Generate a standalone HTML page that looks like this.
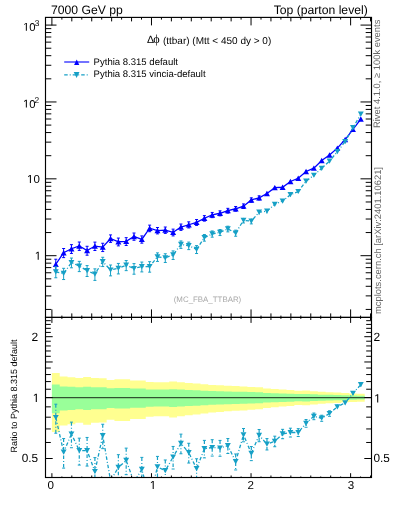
<!DOCTYPE html>
<html><head><meta charset="utf-8"><style>
html,body{margin:0;padding:0;background:#fff;}
svg{display:block;font-family:"Liberation Sans",sans-serif;will-change:transform;text-rendering:geometricPrecision;}
</style></head><body>
<svg width="393" height="512" viewBox="0 0 393 512">
<rect width="393" height="512" fill="#fff"/>
<path d="M51.90,372.90 L59.72,372.90 L59.72,376.50 L67.54,376.50 L67.54,377.20 L75.36,377.20 L75.36,378.00 L83.18,378.00 L83.18,376.90 L91.00,376.90 L91.00,378.00 L98.82,378.00 L98.82,378.20 L106.64,378.20 L106.64,379.90 L114.46,379.90 L114.46,379.20 L122.28,379.20 L122.28,379.20 L130.10,379.20 L130.10,380.40 L137.92,380.40 L137.92,380.40 L145.74,380.40 L145.74,381.90 L153.56,381.90 L153.56,382.30 L161.38,382.30 L161.38,382.30 L169.20,382.30 L169.20,381.40 L177.02,381.40 L177.02,382.30 L184.84,382.30 L184.84,382.90 L192.66,382.90 L192.66,383.40 L200.48,383.40 L200.48,384.20 L208.30,384.20 L208.30,384.90 L216.12,384.90 L216.12,385.30 L223.94,385.30 L223.94,385.80 L231.76,385.80 L231.76,386.10 L239.59,386.10 L239.59,386.40 L247.41,386.40 L247.41,386.90 L255.23,386.90 L255.23,387.30 L263.05,387.30 L263.05,388.40 L270.87,388.40 L270.87,388.90 L278.69,388.90 L278.69,389.50 L286.51,389.50 L286.51,389.90 L294.33,389.90 L294.33,390.70 L302.15,390.70 L302.15,390.50 L309.97,390.50 L309.97,391.20 L317.79,391.20 L317.79,391.80 L325.61,391.80 L325.61,392.20 L333.43,392.20 L333.43,392.60 L341.25,392.60 L341.25,393.10 L349.07,393.10 L349.07,393.50 L356.89,393.50 L356.89,393.70 L364.71,393.70 L364.71,401.68 L356.89,401.68 L356.89,401.90 L349.07,401.90 L349.07,402.34 L341.25,402.34 L341.25,402.90 L333.43,402.90 L333.43,403.35 L325.61,403.35 L325.61,403.81 L317.79,403.81 L317.79,404.50 L309.97,404.50 L309.97,405.32 L302.15,405.32 L302.15,405.09 L294.33,405.09 L294.33,406.04 L286.51,406.04 L286.51,406.52 L278.69,406.52 L278.69,407.26 L270.87,407.26 L270.87,407.88 L263.05,407.88 L263.05,409.27 L255.23,409.27 L255.23,409.79 L247.41,409.79 L247.41,410.44 L239.59,410.44 L239.59,410.84 L231.76,410.84 L231.76,411.23 L223.94,411.23 L223.94,411.91 L216.12,411.91 L216.12,412.45 L208.30,412.45 L208.30,413.42 L200.48,413.42 L200.48,414.55 L192.66,414.55 L192.66,415.26 L184.84,415.26 L184.84,416.14 L177.02,416.14 L177.02,417.48 L169.20,417.48 L169.20,416.14 L161.38,416.14 L161.38,416.14 L153.56,416.14 L153.56,416.73 L145.74,416.73 L145.74,419.01 L137.92,419.01 L137.92,419.01 L130.10,419.01 L130.10,420.90 L122.28,420.90 L122.28,420.90 L114.46,420.90 L114.46,419.79 L106.64,419.79 L106.64,422.53 L98.82,422.53 L98.82,422.87 L91.00,422.87 L91.00,424.73 L83.18,424.73 L83.18,422.87 L75.36,422.87 L75.36,424.22 L67.54,424.22 L67.54,425.42 L59.72,425.42 L59.72,432.08 L51.90,432.08 Z" fill="#ffff90"/>
<path d="M51.90,384.38 L59.72,384.38 L59.72,386.42 L67.54,386.42 L67.54,386.81 L75.36,386.81 L75.36,387.25 L83.18,387.25 L83.18,386.64 L91.00,386.64 L91.00,387.25 L98.82,387.25 L98.82,387.37 L106.64,387.37 L106.64,388.31 L114.46,388.31 L114.46,387.92 L122.28,387.92 L122.28,387.92 L130.10,387.92 L130.10,388.58 L137.92,388.58 L137.92,388.58 L145.74,388.58 L145.74,389.40 L153.56,389.40 L153.56,389.62 L161.38,389.62 L161.38,389.62 L169.20,389.62 L169.20,389.13 L177.02,389.13 L177.02,389.62 L184.84,389.62 L184.84,389.94 L192.66,389.94 L192.66,390.21 L200.48,390.21 L200.48,390.64 L208.30,390.64 L208.30,391.02 L216.12,391.02 L216.12,391.23 L223.94,391.23 L223.94,391.50 L231.76,391.50 L231.76,391.66 L239.59,391.66 L239.59,391.82 L247.41,391.82 L247.41,392.09 L255.23,392.09 L255.23,392.30 L263.05,392.30 L263.05,392.88 L270.87,392.88 L270.87,393.14 L278.69,393.14 L278.69,393.46 L286.51,393.46 L286.51,393.67 L294.33,393.67 L294.33,394.08 L302.15,394.08 L302.15,393.98 L309.97,393.98 L309.97,394.34 L317.79,394.34 L317.79,394.65 L325.61,394.65 L325.61,394.86 L333.43,394.86 L333.43,395.06 L341.25,395.06 L341.25,395.32 L349.07,395.32 L349.07,395.53 L356.89,395.53 L356.89,395.63 L364.71,395.63 L364.71,399.62 L356.89,399.62 L356.89,399.72 L349.07,399.72 L349.07,399.94 L341.25,399.94 L341.25,400.21 L333.43,400.21 L333.43,400.43 L325.61,400.43 L325.61,400.65 L317.79,400.65 L317.79,400.98 L309.97,400.98 L309.97,401.38 L302.15,401.38 L302.15,401.26 L294.33,401.26 L294.33,401.72 L286.51,401.72 L286.51,401.95 L278.69,401.95 L278.69,402.30 L270.87,402.30 L270.87,402.59 L263.05,402.59 L263.05,403.24 L255.23,403.24 L255.23,403.48 L247.41,403.48 L247.41,403.79 L239.59,403.79 L239.59,403.97 L231.76,403.97 L231.76,404.15 L223.94,404.15 L223.94,404.46 L216.12,404.46 L216.12,404.71 L208.30,404.71 L208.30,405.15 L200.48,405.15 L200.48,405.67 L192.66,405.67 L192.66,405.99 L184.84,405.99 L184.84,406.38 L177.02,406.38 L177.02,406.98 L169.20,406.98 L169.20,406.38 L161.38,406.38 L161.38,406.38 L153.56,406.38 L153.56,406.65 L145.74,406.65 L145.74,407.65 L137.92,407.65 L137.92,407.65 L130.10,407.65 L130.10,408.48 L122.28,408.48 L122.28,408.48 L114.46,408.48 L114.46,408.00 L106.64,408.00 L106.64,409.19 L98.82,409.19 L98.82,409.33 L91.00,409.33 L91.00,410.12 L83.18,410.12 L83.18,409.33 L75.36,409.33 L75.36,409.90 L67.54,409.90 L67.54,410.42 L59.72,410.42 L59.72,413.16 L51.90,413.16 Z" fill="#99ff99"/>
<line x1="45.5" y1="397.6" x2="371.5" y2="397.6" stroke="#000" stroke-opacity="0.68" stroke-width="1.45"/>
<line x1="55.81" y1="259.23" x2="55.81" y2="270.16" stroke="#0000ff" stroke-width="1" />
<line x1="54.31" y1="259.23" x2="57.31" y2="259.23" stroke="#0000ff" stroke-width="1" />
<line x1="54.31" y1="270.16" x2="57.31" y2="270.16" stroke="#0000ff" stroke-width="1" />
<line x1="63.63" y1="248.50" x2="63.63" y2="257.62" stroke="#0000ff" stroke-width="1" />
<line x1="62.13" y1="248.50" x2="65.13" y2="248.50" stroke="#0000ff" stroke-width="1" />
<line x1="62.13" y1="257.62" x2="65.13" y2="257.62" stroke="#0000ff" stroke-width="1" />
<line x1="71.45" y1="244.65" x2="71.45" y2="253.43" stroke="#0000ff" stroke-width="1" />
<line x1="69.95" y1="244.65" x2="72.95" y2="244.65" stroke="#0000ff" stroke-width="1" />
<line x1="69.95" y1="253.43" x2="72.95" y2="253.43" stroke="#0000ff" stroke-width="1" />
<line x1="79.27" y1="242.02" x2="79.27" y2="250.41" stroke="#0000ff" stroke-width="1" />
<line x1="77.77" y1="242.02" x2="80.77" y2="242.02" stroke="#0000ff" stroke-width="1" />
<line x1="77.77" y1="250.41" x2="80.77" y2="250.41" stroke="#0000ff" stroke-width="1" />
<line x1="87.09" y1="246.29" x2="87.09" y2="255.21" stroke="#0000ff" stroke-width="1" />
<line x1="85.59" y1="246.29" x2="88.59" y2="246.29" stroke="#0000ff" stroke-width="1" />
<line x1="85.59" y1="255.21" x2="88.59" y2="255.21" stroke="#0000ff" stroke-width="1" />
<line x1="94.91" y1="242.12" x2="94.91" y2="250.51" stroke="#0000ff" stroke-width="1" />
<line x1="93.41" y1="242.12" x2="96.41" y2="242.12" stroke="#0000ff" stroke-width="1" />
<line x1="93.41" y1="250.51" x2="96.41" y2="250.51" stroke="#0000ff" stroke-width="1" />
<line x1="102.73" y1="243.26" x2="102.73" y2="251.55" stroke="#0000ff" stroke-width="1" />
<line x1="101.23" y1="243.26" x2="104.23" y2="243.26" stroke="#0000ff" stroke-width="1" />
<line x1="101.23" y1="251.55" x2="104.23" y2="251.55" stroke="#0000ff" stroke-width="1" />
<line x1="110.55" y1="234.92" x2="110.55" y2="242.40" stroke="#0000ff" stroke-width="1" />
<line x1="109.05" y1="234.92" x2="112.05" y2="234.92" stroke="#0000ff" stroke-width="1" />
<line x1="109.05" y1="242.40" x2="112.05" y2="242.40" stroke="#0000ff" stroke-width="1" />
<line x1="118.37" y1="238.07" x2="118.37" y2="245.88" stroke="#0000ff" stroke-width="1" />
<line x1="116.87" y1="238.07" x2="119.87" y2="238.07" stroke="#0000ff" stroke-width="1" />
<line x1="116.87" y1="245.88" x2="119.87" y2="245.88" stroke="#0000ff" stroke-width="1" />
<line x1="126.19" y1="237.67" x2="126.19" y2="245.48" stroke="#0000ff" stroke-width="1" />
<line x1="124.69" y1="237.67" x2="127.69" y2="237.67" stroke="#0000ff" stroke-width="1" />
<line x1="124.69" y1="245.48" x2="127.69" y2="245.48" stroke="#0000ff" stroke-width="1" />
<line x1="134.01" y1="233.02" x2="134.01" y2="240.27" stroke="#0000ff" stroke-width="1" />
<line x1="132.51" y1="233.02" x2="135.51" y2="233.02" stroke="#0000ff" stroke-width="1" />
<line x1="132.51" y1="240.27" x2="135.51" y2="240.27" stroke="#0000ff" stroke-width="1" />
<line x1="141.83" y1="235.92" x2="141.83" y2="243.17" stroke="#0000ff" stroke-width="1" />
<line x1="140.33" y1="235.92" x2="143.33" y2="235.92" stroke="#0000ff" stroke-width="1" />
<line x1="140.33" y1="243.17" x2="143.33" y2="243.17" stroke="#0000ff" stroke-width="1" />
<line x1="149.65" y1="225.13" x2="149.65" y2="231.69" stroke="#0000ff" stroke-width="1" />
<line x1="148.15" y1="225.13" x2="151.15" y2="225.13" stroke="#0000ff" stroke-width="1" />
<line x1="148.15" y1="231.69" x2="151.15" y2="231.69" stroke="#0000ff" stroke-width="1" />
<line x1="157.47" y1="227.52" x2="157.47" y2="233.89" stroke="#0000ff" stroke-width="1" />
<line x1="155.97" y1="227.52" x2="158.97" y2="227.52" stroke="#0000ff" stroke-width="1" />
<line x1="155.97" y1="233.89" x2="158.97" y2="233.89" stroke="#0000ff" stroke-width="1" />
<line x1="165.29" y1="227.02" x2="165.29" y2="233.39" stroke="#0000ff" stroke-width="1" />
<line x1="163.79" y1="227.02" x2="166.79" y2="227.02" stroke="#0000ff" stroke-width="1" />
<line x1="163.79" y1="233.39" x2="166.79" y2="233.39" stroke="#0000ff" stroke-width="1" />
<line x1="173.11" y1="229.13" x2="173.11" y2="235.91" stroke="#0000ff" stroke-width="1" />
<line x1="171.61" y1="229.13" x2="174.61" y2="229.13" stroke="#0000ff" stroke-width="1" />
<line x1="171.61" y1="235.91" x2="174.61" y2="235.91" stroke="#0000ff" stroke-width="1" />
<line x1="180.93" y1="224.02" x2="180.93" y2="230.39" stroke="#0000ff" stroke-width="1" />
<line x1="179.43" y1="224.02" x2="182.43" y2="224.02" stroke="#0000ff" stroke-width="1" />
<line x1="179.43" y1="230.39" x2="182.43" y2="230.39" stroke="#0000ff" stroke-width="1" />
<line x1="188.75" y1="221.84" x2="188.75" y2="227.94" stroke="#0000ff" stroke-width="1" />
<line x1="187.25" y1="221.84" x2="190.25" y2="221.84" stroke="#0000ff" stroke-width="1" />
<line x1="187.25" y1="227.94" x2="190.25" y2="227.94" stroke="#0000ff" stroke-width="1" />
<line x1="196.57" y1="219.54" x2="196.57" y2="225.41" stroke="#0000ff" stroke-width="1" />
<line x1="195.07" y1="219.54" x2="198.07" y2="219.54" stroke="#0000ff" stroke-width="1" />
<line x1="195.07" y1="225.41" x2="198.07" y2="225.41" stroke="#0000ff" stroke-width="1" />
<line x1="204.39" y1="215.61" x2="204.39" y2="221.12" stroke="#0000ff" stroke-width="1" />
<line x1="202.89" y1="215.61" x2="205.89" y2="215.61" stroke="#0000ff" stroke-width="1" />
<line x1="202.89" y1="221.12" x2="205.89" y2="221.12" stroke="#0000ff" stroke-width="1" />
<line x1="212.21" y1="212.45" x2="212.21" y2="217.65" stroke="#0000ff" stroke-width="1" />
<line x1="210.71" y1="212.45" x2="213.71" y2="212.45" stroke="#0000ff" stroke-width="1" />
<line x1="210.71" y1="217.65" x2="213.71" y2="217.65" stroke="#0000ff" stroke-width="1" />
<line x1="220.03" y1="210.83" x2="220.03" y2="215.86" stroke="#0000ff" stroke-width="1" />
<line x1="218.53" y1="210.83" x2="221.53" y2="210.83" stroke="#0000ff" stroke-width="1" />
<line x1="218.53" y1="215.86" x2="221.53" y2="215.86" stroke="#0000ff" stroke-width="1" />
<line x1="227.85" y1="208.33" x2="227.85" y2="213.14" stroke="#0000ff" stroke-width="1" />
<line x1="226.35" y1="208.33" x2="229.35" y2="208.33" stroke="#0000ff" stroke-width="1" />
<line x1="226.35" y1="213.14" x2="229.35" y2="213.14" stroke="#0000ff" stroke-width="1" />
<line x1="235.67" y1="206.49" x2="235.67" y2="211.17" stroke="#0000ff" stroke-width="1" />
<line x1="234.17" y1="206.49" x2="237.17" y2="206.49" stroke="#0000ff" stroke-width="1" />
<line x1="234.17" y1="211.17" x2="237.17" y2="211.17" stroke="#0000ff" stroke-width="1" />
<line x1="243.50" y1="203.95" x2="243.50" y2="208.50" stroke="#0000ff" stroke-width="1" />
<line x1="242.00" y1="203.95" x2="245.00" y2="203.95" stroke="#0000ff" stroke-width="1" />
<line x1="242.00" y1="208.50" x2="245.00" y2="208.50" stroke="#0000ff" stroke-width="1" />
<line x1="251.32" y1="197.86" x2="251.32" y2="202.19" stroke="#0000ff" stroke-width="1" />
<line x1="249.82" y1="197.86" x2="252.82" y2="197.86" stroke="#0000ff" stroke-width="1" />
<line x1="249.82" y1="202.19" x2="252.82" y2="202.19" stroke="#0000ff" stroke-width="1" />
<line x1="259.14" y1="195.84" x2="259.14" y2="199.99" stroke="#0000ff" stroke-width="1" />
<line x1="257.64" y1="195.84" x2="260.64" y2="195.84" stroke="#0000ff" stroke-width="1" />
<line x1="257.64" y1="199.99" x2="260.64" y2="199.99" stroke="#0000ff" stroke-width="1" />
<line x1="266.96" y1="191.76" x2="266.96" y2="195.45" stroke="#0000ff" stroke-width="1" />
<line x1="265.46" y1="195.45" x2="268.46" y2="195.45" stroke="#0000ff" stroke-width="1" />
<line x1="274.78" y1="185.96" x2="274.78" y2="189.43" stroke="#0000ff" stroke-width="1" />
<line x1="282.60" y1="185.68" x2="282.60" y2="188.90" stroke="#0000ff" stroke-width="1" />
<line x1="290.42" y1="179.96" x2="290.42" y2="183.02" stroke="#0000ff" stroke-width="1" />
<line x1="298.24" y1="176.91" x2="298.24" y2="179.64" stroke="#0000ff" stroke-width="1" />
<line x1="306.06" y1="170.07" x2="306.06" y2="172.89" stroke="#0000ff" stroke-width="1" />
<line x1="313.88" y1="166.91" x2="313.88" y2="169.44" stroke="#0000ff" stroke-width="1" />
<line x1="321.70" y1="159.33" x2="321.70" y2="161.61" stroke="#0000ff" stroke-width="1" />
<line x1="329.52" y1="154.01" x2="329.52" y2="156.13" stroke="#0000ff" stroke-width="1" />
<line x1="337.34" y1="147.19" x2="337.34" y2="149.14" stroke="#0000ff" stroke-width="1" />
<line x1="345.16" y1="138.68" x2="345.16" y2="140.44" stroke="#0000ff" stroke-width="1" />
<line x1="352.98" y1="128.56" x2="352.98" y2="130.16" stroke="#0000ff" stroke-width="1" />
<line x1="360.80" y1="118.30" x2="360.80" y2="119.82" stroke="#0000ff" stroke-width="1" />
<polyline points="55.81,264.25 63.63,252.75 71.45,248.75 79.27,245.95 87.09,250.45 94.91,246.05 102.73,247.15 110.55,238.45 118.37,241.75 126.19,241.35 134.01,236.45 141.83,239.35 149.65,228.25 157.47,230.55 165.29,230.05 173.11,232.35 180.93,227.05 188.75,224.75 196.57,222.35 204.39,218.25 212.21,214.95 220.03,213.25 227.85,210.65 235.67,208.75 243.50,206.15 251.32,199.95 259.14,197.85 266.96,193.55 274.78,187.65 282.60,187.25 290.42,181.45 298.24,178.25 306.06,171.45 313.88,168.15 321.70,160.45 329.52,155.05 337.34,148.15 345.16,139.55 352.98,129.35 360.80,119.05" fill="none" stroke="#0000ff" stroke-width="1.3"/>
<polygon points="52.81,266.95 58.81,266.95 55.81,261.55" fill="#0000ff"/>
<polygon points="60.63,255.45 66.63,255.45 63.63,250.05" fill="#0000ff"/>
<polygon points="68.45,251.45 74.45,251.45 71.45,246.05" fill="#0000ff"/>
<polygon points="76.27,248.65 82.27,248.65 79.27,243.25" fill="#0000ff"/>
<polygon points="84.09,253.15 90.09,253.15 87.09,247.75" fill="#0000ff"/>
<polygon points="91.91,248.75 97.91,248.75 94.91,243.35" fill="#0000ff"/>
<polygon points="99.73,249.85 105.73,249.85 102.73,244.45" fill="#0000ff"/>
<polygon points="107.55,241.15 113.55,241.15 110.55,235.75" fill="#0000ff"/>
<polygon points="115.37,244.45 121.37,244.45 118.37,239.05" fill="#0000ff"/>
<polygon points="123.19,244.05 129.19,244.05 126.19,238.65" fill="#0000ff"/>
<polygon points="131.01,239.15 137.01,239.15 134.01,233.75" fill="#0000ff"/>
<polygon points="138.83,242.05 144.83,242.05 141.83,236.65" fill="#0000ff"/>
<polygon points="146.65,230.95 152.65,230.95 149.65,225.55" fill="#0000ff"/>
<polygon points="154.47,233.25 160.47,233.25 157.47,227.85" fill="#0000ff"/>
<polygon points="162.29,232.75 168.29,232.75 165.29,227.35" fill="#0000ff"/>
<polygon points="170.11,235.05 176.11,235.05 173.11,229.65" fill="#0000ff"/>
<polygon points="177.93,229.75 183.93,229.75 180.93,224.35" fill="#0000ff"/>
<polygon points="185.75,227.45 191.75,227.45 188.75,222.05" fill="#0000ff"/>
<polygon points="193.57,225.05 199.57,225.05 196.57,219.65" fill="#0000ff"/>
<polygon points="201.39,220.95 207.39,220.95 204.39,215.55" fill="#0000ff"/>
<polygon points="209.21,217.65 215.21,217.65 212.21,212.25" fill="#0000ff"/>
<polygon points="217.03,215.95 223.03,215.95 220.03,210.55" fill="#0000ff"/>
<polygon points="224.85,213.35 230.85,213.35 227.85,207.95" fill="#0000ff"/>
<polygon points="232.67,211.45 238.67,211.45 235.67,206.05" fill="#0000ff"/>
<polygon points="240.50,208.85 246.50,208.85 243.50,203.45" fill="#0000ff"/>
<polygon points="248.32,202.65 254.32,202.65 251.32,197.25" fill="#0000ff"/>
<polygon points="256.14,200.55 262.14,200.55 259.14,195.15" fill="#0000ff"/>
<polygon points="263.96,196.25 269.96,196.25 266.96,190.85" fill="#0000ff"/>
<polygon points="271.78,190.35 277.78,190.35 274.78,184.95" fill="#0000ff"/>
<polygon points="279.60,189.95 285.60,189.95 282.60,184.55" fill="#0000ff"/>
<polygon points="287.42,184.15 293.42,184.15 290.42,178.75" fill="#0000ff"/>
<polygon points="295.24,180.95 301.24,180.95 298.24,175.55" fill="#0000ff"/>
<polygon points="303.06,174.15 309.06,174.15 306.06,168.75" fill="#0000ff"/>
<polygon points="310.88,170.85 316.88,170.85 313.88,165.45" fill="#0000ff"/>
<polygon points="318.70,163.15 324.70,163.15 321.70,157.75" fill="#0000ff"/>
<polygon points="326.52,157.75 332.52,157.75 329.52,152.35" fill="#0000ff"/>
<polygon points="334.34,150.85 340.34,150.85 337.34,145.45" fill="#0000ff"/>
<polygon points="342.16,142.25 348.16,142.25 345.16,136.85" fill="#0000ff"/>
<polygon points="349.98,132.05 355.98,132.05 352.98,126.65" fill="#0000ff"/>
<polygon points="357.80,121.75 363.80,121.75 360.80,116.35" fill="#0000ff"/>
<line x1="55.81" y1="266.75" x2="55.81" y2="277.78" stroke="#16a0c6" stroke-width="1" />
<line x1="54.31" y1="266.75" x2="57.31" y2="266.75" stroke="#16a0c6" stroke-width="1" />
<line x1="54.31" y1="277.78" x2="57.31" y2="277.78" stroke="#16a0c6" stroke-width="1" />
<line x1="63.63" y1="268.32" x2="63.63" y2="279.54" stroke="#16a0c6" stroke-width="1" />
<line x1="62.13" y1="268.32" x2="65.13" y2="268.32" stroke="#16a0c6" stroke-width="1" />
<line x1="62.13" y1="279.54" x2="65.13" y2="279.54" stroke="#16a0c6" stroke-width="1" />
<line x1="71.45" y1="258.07" x2="71.45" y2="267.80" stroke="#16a0c6" stroke-width="1" />
<line x1="69.95" y1="258.07" x2="72.95" y2="258.07" stroke="#16a0c6" stroke-width="1" />
<line x1="69.95" y1="267.80" x2="72.95" y2="267.80" stroke="#16a0c6" stroke-width="1" />
<line x1="79.27" y1="261.36" x2="79.27" y2="271.60" stroke="#16a0c6" stroke-width="1" />
<line x1="77.77" y1="261.36" x2="80.77" y2="261.36" stroke="#16a0c6" stroke-width="1" />
<line x1="77.77" y1="271.60" x2="80.77" y2="271.60" stroke="#16a0c6" stroke-width="1" />
<line x1="87.09" y1="265.59" x2="87.09" y2="276.48" stroke="#16a0c6" stroke-width="1" />
<line x1="85.59" y1="265.59" x2="88.59" y2="265.59" stroke="#16a0c6" stroke-width="1" />
<line x1="85.59" y1="276.48" x2="88.59" y2="276.48" stroke="#16a0c6" stroke-width="1" />
<line x1="94.91" y1="268.85" x2="94.91" y2="280.40" stroke="#16a0c6" stroke-width="1" />
<line x1="93.41" y1="268.85" x2="96.41" y2="268.85" stroke="#16a0c6" stroke-width="1" />
<line x1="93.41" y1="280.40" x2="96.41" y2="280.40" stroke="#16a0c6" stroke-width="1" />
<line x1="102.73" y1="257.27" x2="102.73" y2="266.55" stroke="#16a0c6" stroke-width="1" />
<line x1="101.23" y1="257.27" x2="104.23" y2="257.27" stroke="#16a0c6" stroke-width="1" />
<line x1="101.23" y1="266.55" x2="104.23" y2="266.55" stroke="#16a0c6" stroke-width="1" />
<line x1="110.55" y1="265.01" x2="110.55" y2="275.86" stroke="#16a0c6" stroke-width="1" />
<line x1="109.05" y1="265.01" x2="112.05" y2="265.01" stroke="#16a0c6" stroke-width="1" />
<line x1="109.05" y1="275.86" x2="112.05" y2="275.86" stroke="#16a0c6" stroke-width="1" />
<line x1="118.37" y1="263.43" x2="118.37" y2="273.93" stroke="#16a0c6" stroke-width="1" />
<line x1="116.87" y1="263.43" x2="119.87" y2="263.43" stroke="#16a0c6" stroke-width="1" />
<line x1="116.87" y1="273.93" x2="119.87" y2="273.93" stroke="#16a0c6" stroke-width="1" />
<line x1="126.19" y1="260.55" x2="126.19" y2="270.63" stroke="#16a0c6" stroke-width="1" />
<line x1="124.69" y1="260.55" x2="127.69" y2="260.55" stroke="#16a0c6" stroke-width="1" />
<line x1="124.69" y1="270.63" x2="127.69" y2="270.63" stroke="#16a0c6" stroke-width="1" />
<line x1="134.01" y1="263.62" x2="134.01" y2="274.21" stroke="#16a0c6" stroke-width="1" />
<line x1="132.51" y1="263.62" x2="135.51" y2="263.62" stroke="#16a0c6" stroke-width="1" />
<line x1="132.51" y1="274.21" x2="135.51" y2="274.21" stroke="#16a0c6" stroke-width="1" />
<line x1="141.83" y1="262.07" x2="141.83" y2="271.92" stroke="#16a0c6" stroke-width="1" />
<line x1="140.33" y1="262.07" x2="143.33" y2="262.07" stroke="#16a0c6" stroke-width="1" />
<line x1="140.33" y1="271.92" x2="143.33" y2="271.92" stroke="#16a0c6" stroke-width="1" />
<line x1="149.65" y1="261.66" x2="149.65" y2="272.17" stroke="#16a0c6" stroke-width="1" />
<line x1="148.15" y1="261.66" x2="151.15" y2="261.66" stroke="#16a0c6" stroke-width="1" />
<line x1="148.15" y1="272.17" x2="151.15" y2="272.17" stroke="#16a0c6" stroke-width="1" />
<line x1="157.47" y1="252.89" x2="157.47" y2="261.42" stroke="#16a0c6" stroke-width="1" />
<line x1="155.97" y1="252.89" x2="158.97" y2="252.89" stroke="#16a0c6" stroke-width="1" />
<line x1="155.97" y1="261.42" x2="158.97" y2="261.42" stroke="#16a0c6" stroke-width="1" />
<line x1="165.29" y1="253.75" x2="165.29" y2="262.47" stroke="#16a0c6" stroke-width="1" />
<line x1="163.79" y1="253.75" x2="166.79" y2="253.75" stroke="#16a0c6" stroke-width="1" />
<line x1="163.79" y1="262.47" x2="166.79" y2="262.47" stroke="#16a0c6" stroke-width="1" />
<line x1="173.11" y1="250.91" x2="173.11" y2="259.48" stroke="#16a0c6" stroke-width="1" />
<line x1="171.61" y1="250.91" x2="174.61" y2="250.91" stroke="#16a0c6" stroke-width="1" />
<line x1="171.61" y1="259.48" x2="174.61" y2="259.48" stroke="#16a0c6" stroke-width="1" />
<line x1="180.93" y1="240.94" x2="180.93" y2="248.38" stroke="#16a0c6" stroke-width="1" />
<line x1="179.43" y1="240.94" x2="182.43" y2="240.94" stroke="#16a0c6" stroke-width="1" />
<line x1="179.43" y1="248.38" x2="182.43" y2="248.38" stroke="#16a0c6" stroke-width="1" />
<line x1="188.75" y1="242.10" x2="188.75" y2="249.62" stroke="#16a0c6" stroke-width="1" />
<line x1="187.25" y1="242.10" x2="190.25" y2="242.10" stroke="#16a0c6" stroke-width="1" />
<line x1="187.25" y1="249.62" x2="190.25" y2="249.62" stroke="#16a0c6" stroke-width="1" />
<line x1="196.57" y1="245.60" x2="196.57" y2="253.53" stroke="#16a0c6" stroke-width="1" />
<line x1="195.07" y1="245.60" x2="198.07" y2="245.60" stroke="#16a0c6" stroke-width="1" />
<line x1="195.07" y1="253.53" x2="198.07" y2="253.53" stroke="#16a0c6" stroke-width="1" />
<line x1="204.39" y1="234.51" x2="204.39" y2="241.15" stroke="#16a0c6" stroke-width="1" />
<line x1="202.89" y1="234.51" x2="205.89" y2="234.51" stroke="#16a0c6" stroke-width="1" />
<line x1="202.89" y1="241.15" x2="205.89" y2="241.15" stroke="#16a0c6" stroke-width="1" />
<line x1="212.21" y1="230.94" x2="212.21" y2="237.17" stroke="#16a0c6" stroke-width="1" />
<line x1="210.71" y1="230.94" x2="213.71" y2="230.94" stroke="#16a0c6" stroke-width="1" />
<line x1="210.71" y1="237.17" x2="213.71" y2="237.17" stroke="#16a0c6" stroke-width="1" />
<line x1="220.03" y1="229.52" x2="220.03" y2="235.55" stroke="#16a0c6" stroke-width="1" />
<line x1="218.53" y1="229.52" x2="221.53" y2="229.52" stroke="#16a0c6" stroke-width="1" />
<line x1="218.53" y1="235.55" x2="221.53" y2="235.55" stroke="#16a0c6" stroke-width="1" />
<line x1="227.85" y1="226.20" x2="227.85" y2="231.89" stroke="#16a0c6" stroke-width="1" />
<line x1="226.35" y1="226.20" x2="229.35" y2="226.20" stroke="#16a0c6" stroke-width="1" />
<line x1="226.35" y1="231.89" x2="229.35" y2="231.89" stroke="#16a0c6" stroke-width="1" />
<line x1="235.67" y1="230.17" x2="235.67" y2="236.24" stroke="#16a0c6" stroke-width="1" />
<line x1="234.17" y1="230.17" x2="237.17" y2="230.17" stroke="#16a0c6" stroke-width="1" />
<line x1="234.17" y1="236.24" x2="237.17" y2="236.24" stroke="#16a0c6" stroke-width="1" />
<line x1="243.50" y1="217.89" x2="243.50" y2="222.95" stroke="#16a0c6" stroke-width="1" />
<line x1="242.00" y1="222.95" x2="245.00" y2="222.95" stroke="#16a0c6" stroke-width="1" />
<line x1="251.32" y1="218.55" x2="251.32" y2="223.90" stroke="#16a0c6" stroke-width="1" />
<line x1="249.82" y1="223.90" x2="252.82" y2="223.90" stroke="#16a0c6" stroke-width="1" />
<line x1="259.14" y1="209.97" x2="259.14" y2="214.61" stroke="#16a0c6" stroke-width="1" />
<line x1="266.96" y1="209.13" x2="266.96" y2="213.45" stroke="#16a0c6" stroke-width="1" />
<line x1="274.78" y1="202.31" x2="274.78" y2="206.32" stroke="#16a0c6" stroke-width="1" />
<line x1="282.60" y1="199.31" x2="282.60" y2="202.88" stroke="#16a0c6" stroke-width="1" />
<line x1="290.42" y1="193.07" x2="290.42" y2="196.43" stroke="#16a0c6" stroke-width="1" />
<line x1="298.24" y1="190.05" x2="298.24" y2="193.04" stroke="#16a0c6" stroke-width="1" />
<line x1="306.06" y1="179.78" x2="306.06" y2="182.71" stroke="#16a0c6" stroke-width="1" />
<line x1="313.88" y1="174.02" x2="313.88" y2="176.54" stroke="#16a0c6" stroke-width="1" />
<line x1="321.70" y1="167.14" x2="321.70" y2="169.45" stroke="#16a0c6" stroke-width="1" />
<line x1="329.52" y1="160.07" x2="329.52" y2="162.15" stroke="#16a0c6" stroke-width="1" />
<line x1="337.34" y1="150.77" x2="337.34" y2="152.62" stroke="#16a0c6" stroke-width="1" />
<line x1="345.16" y1="140.72" x2="345.16" y2="142.35" stroke="#16a0c6" stroke-width="1" />
<line x1="352.98" y1="127.02" x2="352.98" y2="128.42" stroke="#16a0c6" stroke-width="1" />
<line x1="360.80" y1="113.52" x2="360.80" y2="114.79" stroke="#16a0c6" stroke-width="1" />
<polyline points="55.81,271.81 63.63,273.46 71.45,262.58 79.27,266.09 87.09,270.59 94.91,274.13 102.73,261.59 110.55,270.00 118.37,268.27 126.19,265.21 134.01,268.50 141.83,266.63 149.65,266.50 157.47,256.88 165.29,257.83 173.11,254.92 180.93,244.45 188.75,245.65 196.57,249.33 204.39,237.67 212.21,233.91 220.03,232.40 227.85,228.93 235.67,233.07 243.50,220.32 251.32,221.11 259.14,212.21 266.96,211.22 274.78,204.26 282.60,201.04 290.42,194.71 298.24,191.51 306.06,181.22 313.88,175.26 321.70,168.28 329.52,161.09 337.34,151.68 345.16,141.53 352.98,127.72 360.80,114.15" fill="none" stroke="#16a0c6" stroke-width="1.3" stroke-dasharray="3.5 2 1 2"/>
<polygon points="52.86,269.21 58.76,269.21 55.81,274.41" fill="#16a0c6"/>
<polygon points="60.68,270.86 66.58,270.86 63.63,276.06" fill="#16a0c6"/>
<polygon points="68.50,259.98 74.40,259.98 71.45,265.18" fill="#16a0c6"/>
<polygon points="76.32,263.49 82.22,263.49 79.27,268.69" fill="#16a0c6"/>
<polygon points="84.14,267.99 90.04,267.99 87.09,273.19" fill="#16a0c6"/>
<polygon points="91.96,271.53 97.86,271.53 94.91,276.73" fill="#16a0c6"/>
<polygon points="99.78,258.99 105.68,258.99 102.73,264.19" fill="#16a0c6"/>
<polygon points="107.60,267.40 113.50,267.40 110.55,272.60" fill="#16a0c6"/>
<polygon points="115.42,265.67 121.32,265.67 118.37,270.87" fill="#16a0c6"/>
<polygon points="123.24,262.61 129.14,262.61 126.19,267.81" fill="#16a0c6"/>
<polygon points="131.06,265.90 136.96,265.90 134.01,271.10" fill="#16a0c6"/>
<polygon points="138.88,264.03 144.78,264.03 141.83,269.23" fill="#16a0c6"/>
<polygon points="146.70,263.90 152.60,263.90 149.65,269.10" fill="#16a0c6"/>
<polygon points="154.52,254.28 160.42,254.28 157.47,259.48" fill="#16a0c6"/>
<polygon points="162.34,255.23 168.24,255.23 165.29,260.43" fill="#16a0c6"/>
<polygon points="170.16,252.32 176.06,252.32 173.11,257.52" fill="#16a0c6"/>
<polygon points="177.98,241.85 183.88,241.85 180.93,247.05" fill="#16a0c6"/>
<polygon points="185.80,243.05 191.70,243.05 188.75,248.25" fill="#16a0c6"/>
<polygon points="193.62,246.73 199.52,246.73 196.57,251.93" fill="#16a0c6"/>
<polygon points="201.44,235.07 207.34,235.07 204.39,240.27" fill="#16a0c6"/>
<polygon points="209.26,231.31 215.16,231.31 212.21,236.51" fill="#16a0c6"/>
<polygon points="217.08,229.80 222.98,229.80 220.03,235.00" fill="#16a0c6"/>
<polygon points="224.90,226.33 230.80,226.33 227.85,231.53" fill="#16a0c6"/>
<polygon points="232.72,230.47 238.62,230.47 235.67,235.67" fill="#16a0c6"/>
<polygon points="240.55,217.72 246.45,217.72 243.50,222.92" fill="#16a0c6"/>
<polygon points="248.37,218.51 254.27,218.51 251.32,223.71" fill="#16a0c6"/>
<polygon points="256.19,209.61 262.09,209.61 259.14,214.81" fill="#16a0c6"/>
<polygon points="264.01,208.62 269.91,208.62 266.96,213.82" fill="#16a0c6"/>
<polygon points="271.83,201.66 277.73,201.66 274.78,206.86" fill="#16a0c6"/>
<polygon points="279.65,198.44 285.55,198.44 282.60,203.64" fill="#16a0c6"/>
<polygon points="287.47,192.11 293.37,192.11 290.42,197.31" fill="#16a0c6"/>
<polygon points="295.29,188.91 301.19,188.91 298.24,194.11" fill="#16a0c6"/>
<polygon points="303.11,178.62 309.01,178.62 306.06,183.82" fill="#16a0c6"/>
<polygon points="310.93,172.66 316.83,172.66 313.88,177.86" fill="#16a0c6"/>
<polygon points="318.75,165.68 324.65,165.68 321.70,170.88" fill="#16a0c6"/>
<polygon points="326.57,158.49 332.47,158.49 329.52,163.69" fill="#16a0c6"/>
<polygon points="334.39,149.08 340.29,149.08 337.34,154.28" fill="#16a0c6"/>
<polygon points="342.21,138.93 348.11,138.93 345.16,144.13" fill="#16a0c6"/>
<polygon points="350.03,125.12 355.93,125.12 352.98,130.32" fill="#16a0c6"/>
<polygon points="357.85,111.55 363.75,111.55 360.80,116.75" fill="#16a0c6"/>
<clipPath id="rc"><rect x="45.5" y="317.4" width="326.0" height="160.10000000000002"/></clipPath>
<g clip-path="url(#rc)">
<line x1="55.81" y1="404.19" x2="55.81" y2="433.20" stroke="#16a0c6" stroke-width="1.2" stroke-dasharray="3.5 2 1 2"/>
<line x1="54.31" y1="404.19" x2="57.31" y2="404.19" stroke="#16a0c6" stroke-width="1" />
<line x1="54.31" y1="433.20" x2="57.31" y2="433.20" stroke="#16a0c6" stroke-width="1" />
<line x1="63.63" y1="438.56" x2="63.63" y2="468.11" stroke="#16a0c6" stroke-width="1.2" stroke-dasharray="3.5 2 1 2"/>
<line x1="62.13" y1="438.56" x2="65.13" y2="438.56" stroke="#16a0c6" stroke-width="1" />
<line x1="62.13" y1="468.11" x2="65.13" y2="468.11" stroke="#16a0c6" stroke-width="1" />
<line x1="71.45" y1="422.13" x2="71.45" y2="447.73" stroke="#16a0c6" stroke-width="1.2" stroke-dasharray="3.5 2 1 2"/>
<line x1="69.95" y1="422.13" x2="72.95" y2="422.13" stroke="#16a0c6" stroke-width="1" />
<line x1="69.95" y1="447.73" x2="72.95" y2="447.73" stroke="#16a0c6" stroke-width="1" />
<line x1="79.27" y1="438.16" x2="79.27" y2="465.09" stroke="#16a0c6" stroke-width="1.2" stroke-dasharray="3.5 2 1 2"/>
<line x1="77.77" y1="438.16" x2="80.77" y2="438.16" stroke="#16a0c6" stroke-width="1" />
<line x1="77.77" y1="465.09" x2="80.77" y2="465.09" stroke="#16a0c6" stroke-width="1" />
<line x1="87.09" y1="437.44" x2="87.09" y2="466.09" stroke="#16a0c6" stroke-width="1.2" stroke-dasharray="3.5 2 1 2"/>
<line x1="85.59" y1="437.44" x2="88.59" y2="437.44" stroke="#16a0c6" stroke-width="1" />
<line x1="85.59" y1="466.09" x2="88.59" y2="466.09" stroke="#16a0c6" stroke-width="1" />
<line x1="94.91" y1="457.61" x2="94.91" y2="488.01" stroke="#16a0c6" stroke-width="1.2" stroke-dasharray="3.5 2 1 2"/>
<line x1="93.41" y1="457.61" x2="96.41" y2="457.61" stroke="#16a0c6" stroke-width="1" />
<line x1="93.41" y1="488.01" x2="96.41" y2="488.01" stroke="#16a0c6" stroke-width="1" />
<line x1="102.73" y1="424.24" x2="102.73" y2="448.65" stroke="#16a0c6" stroke-width="1.2" stroke-dasharray="3.5 2 1 2"/>
<line x1="101.23" y1="424.24" x2="104.23" y2="424.24" stroke="#16a0c6" stroke-width="1" />
<line x1="101.23" y1="448.65" x2="104.23" y2="448.65" stroke="#16a0c6" stroke-width="1" />
<line x1="118.37" y1="454.67" x2="118.37" y2="482.30" stroke="#16a0c6" stroke-width="1.2" stroke-dasharray="3.5 2 1 2"/>
<line x1="116.87" y1="454.67" x2="119.87" y2="454.67" stroke="#16a0c6" stroke-width="1" />
<line x1="116.87" y1="482.30" x2="119.87" y2="482.30" stroke="#16a0c6" stroke-width="1" />
<line x1="126.19" y1="448.13" x2="126.19" y2="474.67" stroke="#16a0c6" stroke-width="1.2" stroke-dasharray="3.5 2 1 2"/>
<line x1="124.69" y1="448.13" x2="127.69" y2="448.13" stroke="#16a0c6" stroke-width="1" />
<line x1="124.69" y1="474.67" x2="127.69" y2="474.67" stroke="#16a0c6" stroke-width="1" />
<line x1="141.83" y1="457.39" x2="141.83" y2="483.31" stroke="#16a0c6" stroke-width="1.2" stroke-dasharray="3.5 2 1 2"/>
<line x1="140.33" y1="457.39" x2="143.33" y2="457.39" stroke="#16a0c6" stroke-width="1" />
<line x1="140.33" y1="483.31" x2="143.33" y2="483.31" stroke="#16a0c6" stroke-width="1" />
<line x1="157.47" y1="456.40" x2="157.47" y2="478.83" stroke="#16a0c6" stroke-width="1.2" stroke-dasharray="3.5 2 1 2"/>
<line x1="155.97" y1="456.40" x2="158.97" y2="456.40" stroke="#16a0c6" stroke-width="1" />
<line x1="155.97" y1="478.83" x2="158.97" y2="478.83" stroke="#16a0c6" stroke-width="1" />
<line x1="165.29" y1="459.98" x2="165.29" y2="482.91" stroke="#16a0c6" stroke-width="1.2" stroke-dasharray="3.5 2 1 2"/>
<line x1="163.79" y1="459.98" x2="166.79" y2="459.98" stroke="#16a0c6" stroke-width="1" />
<line x1="163.79" y1="482.91" x2="166.79" y2="482.91" stroke="#16a0c6" stroke-width="1" />
<line x1="173.11" y1="446.44" x2="173.11" y2="469.01" stroke="#16a0c6" stroke-width="1.2" stroke-dasharray="3.5 2 1 2"/>
<line x1="171.61" y1="446.44" x2="174.61" y2="446.44" stroke="#16a0c6" stroke-width="1" />
<line x1="171.61" y1="469.01" x2="174.61" y2="469.01" stroke="#16a0c6" stroke-width="1" />
<line x1="180.93" y1="434.14" x2="180.93" y2="453.75" stroke="#16a0c6" stroke-width="1.2" stroke-dasharray="3.5 2 1 2"/>
<line x1="179.43" y1="434.14" x2="182.43" y2="434.14" stroke="#16a0c6" stroke-width="1" />
<line x1="179.43" y1="453.75" x2="182.43" y2="453.75" stroke="#16a0c6" stroke-width="1" />
<line x1="188.75" y1="443.27" x2="188.75" y2="463.04" stroke="#16a0c6" stroke-width="1.2" stroke-dasharray="3.5 2 1 2"/>
<line x1="187.25" y1="443.27" x2="190.25" y2="443.27" stroke="#16a0c6" stroke-width="1" />
<line x1="187.25" y1="463.04" x2="190.25" y2="463.04" stroke="#16a0c6" stroke-width="1" />
<line x1="196.57" y1="458.78" x2="196.57" y2="479.66" stroke="#16a0c6" stroke-width="1.2" stroke-dasharray="3.5 2 1 2"/>
<line x1="195.07" y1="458.78" x2="198.07" y2="458.78" stroke="#16a0c6" stroke-width="1" />
<line x1="195.07" y1="479.66" x2="198.07" y2="479.66" stroke="#16a0c6" stroke-width="1" />
<line x1="204.39" y1="440.39" x2="204.39" y2="457.88" stroke="#16a0c6" stroke-width="1.2" stroke-dasharray="3.5 2 1 2"/>
<line x1="202.89" y1="440.39" x2="205.89" y2="440.39" stroke="#16a0c6" stroke-width="1" />
<line x1="202.89" y1="457.88" x2="205.89" y2="457.88" stroke="#16a0c6" stroke-width="1" />
<line x1="212.21" y1="439.69" x2="212.21" y2="456.07" stroke="#16a0c6" stroke-width="1.2" stroke-dasharray="3.5 2 1 2"/>
<line x1="210.71" y1="439.69" x2="213.71" y2="439.69" stroke="#16a0c6" stroke-width="1" />
<line x1="210.71" y1="456.07" x2="213.71" y2="456.07" stroke="#16a0c6" stroke-width="1" />
<line x1="220.03" y1="440.42" x2="220.03" y2="456.29" stroke="#16a0c6" stroke-width="1.2" stroke-dasharray="3.5 2 1 2"/>
<line x1="218.53" y1="440.42" x2="221.53" y2="440.42" stroke="#16a0c6" stroke-width="1" />
<line x1="218.53" y1="456.29" x2="221.53" y2="456.29" stroke="#16a0c6" stroke-width="1" />
<line x1="227.85" y1="438.53" x2="227.85" y2="453.51" stroke="#16a0c6" stroke-width="1.2" stroke-dasharray="3.5 2 1 2"/>
<line x1="226.35" y1="438.53" x2="229.35" y2="438.53" stroke="#16a0c6" stroke-width="1" />
<line x1="226.35" y1="453.51" x2="229.35" y2="453.51" stroke="#16a0c6" stroke-width="1" />
<line x1="235.67" y1="453.98" x2="235.67" y2="469.94" stroke="#16a0c6" stroke-width="1.2" stroke-dasharray="3.5 2 1 2"/>
<line x1="234.17" y1="453.98" x2="237.17" y2="453.98" stroke="#16a0c6" stroke-width="1" />
<line x1="234.17" y1="469.94" x2="237.17" y2="469.94" stroke="#16a0c6" stroke-width="1" />
<line x1="243.50" y1="428.49" x2="243.50" y2="441.81" stroke="#16a0c6" stroke-width="1.2" stroke-dasharray="3.5 2 1 2"/>
<line x1="242.00" y1="428.49" x2="245.00" y2="428.49" stroke="#16a0c6" stroke-width="1" />
<line x1="242.00" y1="441.81" x2="245.00" y2="441.81" stroke="#16a0c6" stroke-width="1" />
<line x1="251.32" y1="446.54" x2="251.32" y2="460.63" stroke="#16a0c6" stroke-width="1.2" stroke-dasharray="3.5 2 1 2"/>
<line x1="249.82" y1="446.54" x2="252.82" y2="446.54" stroke="#16a0c6" stroke-width="1" />
<line x1="249.82" y1="460.63" x2="252.82" y2="460.63" stroke="#16a0c6" stroke-width="1" />
<line x1="259.14" y1="429.50" x2="259.14" y2="441.72" stroke="#16a0c6" stroke-width="1.2" stroke-dasharray="3.5 2 1 2"/>
<line x1="257.64" y1="429.50" x2="260.64" y2="429.50" stroke="#16a0c6" stroke-width="1" />
<line x1="257.64" y1="441.72" x2="260.64" y2="441.72" stroke="#16a0c6" stroke-width="1" />
<line x1="266.96" y1="438.59" x2="266.96" y2="449.98" stroke="#16a0c6" stroke-width="1.2" stroke-dasharray="3.5 2 1 2"/>
<line x1="265.46" y1="438.59" x2="268.46" y2="438.59" stroke="#16a0c6" stroke-width="1" />
<line x1="265.46" y1="449.98" x2="268.46" y2="449.98" stroke="#16a0c6" stroke-width="1" />
<line x1="274.78" y1="436.18" x2="274.78" y2="446.74" stroke="#16a0c6" stroke-width="1.2" stroke-dasharray="3.5 2 1 2"/>
<line x1="273.28" y1="436.18" x2="276.28" y2="436.18" stroke="#16a0c6" stroke-width="1" />
<line x1="273.28" y1="446.74" x2="276.28" y2="446.74" stroke="#16a0c6" stroke-width="1" />
<line x1="282.60" y1="429.33" x2="282.60" y2="438.72" stroke="#16a0c6" stroke-width="1.2" stroke-dasharray="3.5 2 1 2"/>
<line x1="281.10" y1="429.33" x2="284.10" y2="429.33" stroke="#16a0c6" stroke-width="1" />
<line x1="281.10" y1="438.72" x2="284.10" y2="438.72" stroke="#16a0c6" stroke-width="1" />
<line x1="290.42" y1="428.19" x2="290.42" y2="437.03" stroke="#16a0c6" stroke-width="1.2" stroke-dasharray="3.5 2 1 2"/>
<line x1="288.92" y1="428.19" x2="291.92" y2="428.19" stroke="#16a0c6" stroke-width="1" />
<line x1="288.92" y1="437.03" x2="291.92" y2="437.03" stroke="#16a0c6" stroke-width="1" />
<line x1="298.24" y1="428.65" x2="298.24" y2="436.53" stroke="#16a0c6" stroke-width="1.2" stroke-dasharray="3.5 2 1 2"/>
<line x1="296.74" y1="428.65" x2="299.74" y2="428.65" stroke="#16a0c6" stroke-width="1" />
<line x1="296.74" y1="436.53" x2="299.74" y2="436.53" stroke="#16a0c6" stroke-width="1" />
<line x1="306.06" y1="419.53" x2="306.06" y2="427.24" stroke="#16a0c6" stroke-width="1.2" stroke-dasharray="3.5 2 1 2"/>
<line x1="304.56" y1="419.53" x2="307.56" y2="419.53" stroke="#16a0c6" stroke-width="1" />
<line x1="304.56" y1="427.24" x2="307.56" y2="427.24" stroke="#16a0c6" stroke-width="1" />
<line x1="313.88" y1="413.04" x2="313.88" y2="419.69" stroke="#16a0c6" stroke-width="1.2" stroke-dasharray="3.5 2 1 2"/>
<line x1="312.38" y1="413.04" x2="315.38" y2="413.04" stroke="#16a0c6" stroke-width="1" />
<line x1="312.38" y1="419.69" x2="315.38" y2="419.69" stroke="#16a0c6" stroke-width="1" />
<line x1="321.70" y1="415.22" x2="321.70" y2="421.29" stroke="#16a0c6" stroke-width="1.2" stroke-dasharray="3.5 2 1 2"/>
<line x1="320.20" y1="415.22" x2="323.20" y2="415.22" stroke="#16a0c6" stroke-width="1" />
<line x1="320.20" y1="421.29" x2="323.20" y2="421.29" stroke="#16a0c6" stroke-width="1" />
<line x1="329.52" y1="410.80" x2="329.52" y2="416.29" stroke="#16a0c6" stroke-width="1.2" stroke-dasharray="3.5 2 1 2"/>
<line x1="328.02" y1="410.80" x2="331.02" y2="410.80" stroke="#16a0c6" stroke-width="1" />
<line x1="328.02" y1="416.29" x2="331.02" y2="416.29" stroke="#16a0c6" stroke-width="1" />
<line x1="337.34" y1="404.49" x2="337.34" y2="409.38" stroke="#16a0c6" stroke-width="1.2" stroke-dasharray="3.5 2 1 2"/>
<line x1="345.16" y1="400.69" x2="345.16" y2="404.97" stroke="#16a0c6" stroke-width="1.2" stroke-dasharray="3.5 2 1 2"/>
<line x1="352.98" y1="391.48" x2="352.98" y2="395.16" stroke="#16a0c6" stroke-width="1.2" stroke-dasharray="3.5 2 1 2"/>
<line x1="360.80" y1="383.05" x2="360.80" y2="386.38" stroke="#16a0c6" stroke-width="1.2" stroke-dasharray="3.5 2 1 2"/>
<polyline points="55.81,417.50 63.63,452.10 71.45,434.00 79.27,450.60 87.09,450.60 94.91,471.50 102.73,435.60 110.55,480.63 118.37,467.40 126.19,460.40 134.01,481.95 141.83,469.40 149.65,498.26 157.47,466.90 165.29,470.70 173.11,457.00 180.93,443.40 188.75,452.60 196.57,468.60 204.39,448.70 212.21,447.50 220.03,448.00 227.85,445.70 235.67,461.60 243.50,434.90 251.32,453.30 259.14,435.40 266.96,444.10 274.78,441.30 282.60,433.90 290.42,432.50 298.24,432.50 306.06,423.30 313.88,416.30 321.70,418.20 329.52,413.50 337.34,406.90 345.16,402.80 352.98,393.30 360.80,384.70" fill="none" stroke="#16a0c6" stroke-width="1.3" stroke-dasharray="3.5 2 1 2"/>
<polygon points="52.86,414.90 58.76,414.90 55.81,420.10" fill="#16a0c6"/>
<polygon points="60.68,449.50 66.58,449.50 63.63,454.70" fill="#16a0c6"/>
<polygon points="68.50,431.40 74.40,431.40 71.45,436.60" fill="#16a0c6"/>
<polygon points="76.32,448.00 82.22,448.00 79.27,453.20" fill="#16a0c6"/>
<polygon points="84.14,448.00 90.04,448.00 87.09,453.20" fill="#16a0c6"/>
<polygon points="91.96,468.90 97.86,468.90 94.91,474.10" fill="#16a0c6"/>
<polygon points="99.78,433.00 105.68,433.00 102.73,438.20" fill="#16a0c6"/>
<polygon points="107.60,478.03 113.50,478.03 110.55,483.23" fill="#16a0c6"/>
<polygon points="115.42,464.80 121.32,464.80 118.37,470.00" fill="#16a0c6"/>
<polygon points="123.24,457.80 129.14,457.80 126.19,463.00" fill="#16a0c6"/>
<polygon points="131.06,479.35 136.96,479.35 134.01,484.55" fill="#16a0c6"/>
<polygon points="138.88,466.80 144.78,466.80 141.83,472.00" fill="#16a0c6"/>
<polygon points="146.70,495.66 152.60,495.66 149.65,500.86" fill="#16a0c6"/>
<polygon points="154.52,464.30 160.42,464.30 157.47,469.50" fill="#16a0c6"/>
<polygon points="162.34,468.10 168.24,468.10 165.29,473.30" fill="#16a0c6"/>
<polygon points="170.16,454.40 176.06,454.40 173.11,459.60" fill="#16a0c6"/>
<polygon points="177.98,440.80 183.88,440.80 180.93,446.00" fill="#16a0c6"/>
<polygon points="185.80,450.00 191.70,450.00 188.75,455.20" fill="#16a0c6"/>
<polygon points="193.62,466.00 199.52,466.00 196.57,471.20" fill="#16a0c6"/>
<polygon points="201.44,446.10 207.34,446.10 204.39,451.30" fill="#16a0c6"/>
<polygon points="209.26,444.90 215.16,444.90 212.21,450.10" fill="#16a0c6"/>
<polygon points="217.08,445.40 222.98,445.40 220.03,450.60" fill="#16a0c6"/>
<polygon points="224.90,443.10 230.80,443.10 227.85,448.30" fill="#16a0c6"/>
<polygon points="232.72,459.00 238.62,459.00 235.67,464.20" fill="#16a0c6"/>
<polygon points="240.55,432.30 246.45,432.30 243.50,437.50" fill="#16a0c6"/>
<polygon points="248.37,450.70 254.27,450.70 251.32,455.90" fill="#16a0c6"/>
<polygon points="256.19,432.80 262.09,432.80 259.14,438.00" fill="#16a0c6"/>
<polygon points="264.01,441.50 269.91,441.50 266.96,446.70" fill="#16a0c6"/>
<polygon points="271.83,438.70 277.73,438.70 274.78,443.90" fill="#16a0c6"/>
<polygon points="279.65,431.30 285.55,431.30 282.60,436.50" fill="#16a0c6"/>
<polygon points="287.47,429.90 293.37,429.90 290.42,435.10" fill="#16a0c6"/>
<polygon points="295.29,429.90 301.19,429.90 298.24,435.10" fill="#16a0c6"/>
<polygon points="303.11,420.70 309.01,420.70 306.06,425.90" fill="#16a0c6"/>
<polygon points="310.93,413.70 316.83,413.70 313.88,418.90" fill="#16a0c6"/>
<polygon points="318.75,415.60 324.65,415.60 321.70,420.80" fill="#16a0c6"/>
<polygon points="326.57,410.90 332.47,410.90 329.52,416.10" fill="#16a0c6"/>
<polygon points="334.39,404.30 340.29,404.30 337.34,409.50" fill="#16a0c6"/>
<polygon points="342.21,400.20 348.11,400.20 345.16,405.40" fill="#16a0c6"/>
<polygon points="350.03,390.70 355.93,390.70 352.98,395.90" fill="#16a0c6"/>
<polygon points="357.85,382.10 363.75,382.10 360.80,387.30" fill="#16a0c6"/>
</g>
<rect x="45.5" y="17.4" width="326.00" height="300.00" fill="none" stroke="#000" stroke-width="1.15"/>
<rect x="45.5" y="317.4" width="326.00" height="160.10" fill="none" stroke="#000" stroke-width="1.15"/>
<line x1="51.90" y1="17.40" x2="51.90" y2="25.40" stroke="#000" stroke-width="1.0" />
<line x1="51.90" y1="317.40" x2="51.90" y2="309.40" stroke="#000" stroke-width="1.0" />
<line x1="51.90" y1="317.40" x2="51.90" y2="322.90" stroke="#000" stroke-width="1.0" />
<line x1="51.90" y1="477.50" x2="51.90" y2="473.20" stroke="#000" stroke-width="1.0" />
<line x1="61.86" y1="17.40" x2="61.86" y2="19.60" stroke="#000" stroke-width="1.0" />
<line x1="61.86" y1="317.40" x2="61.86" y2="315.60" stroke="#000" stroke-width="1.0" />
<line x1="61.86" y1="317.40" x2="61.86" y2="318.90" stroke="#000" stroke-width="1.0" />
<line x1="61.86" y1="477.50" x2="61.86" y2="476.50" stroke="#000" stroke-width="1.0" />
<line x1="71.81" y1="17.40" x2="71.81" y2="21.40" stroke="#000" stroke-width="1.0" />
<line x1="71.81" y1="317.40" x2="71.81" y2="313.40" stroke="#000" stroke-width="1.0" />
<line x1="71.81" y1="317.40" x2="71.81" y2="320.00" stroke="#000" stroke-width="1.0" />
<line x1="71.81" y1="477.50" x2="71.81" y2="475.50" stroke="#000" stroke-width="1.0" />
<line x1="81.77" y1="17.40" x2="81.77" y2="19.60" stroke="#000" stroke-width="1.0" />
<line x1="81.77" y1="317.40" x2="81.77" y2="315.60" stroke="#000" stroke-width="1.0" />
<line x1="81.77" y1="317.40" x2="81.77" y2="318.90" stroke="#000" stroke-width="1.0" />
<line x1="81.77" y1="477.50" x2="81.77" y2="476.50" stroke="#000" stroke-width="1.0" />
<line x1="91.73" y1="17.40" x2="91.73" y2="21.40" stroke="#000" stroke-width="1.0" />
<line x1="91.73" y1="317.40" x2="91.73" y2="313.40" stroke="#000" stroke-width="1.0" />
<line x1="91.73" y1="317.40" x2="91.73" y2="320.00" stroke="#000" stroke-width="1.0" />
<line x1="91.73" y1="477.50" x2="91.73" y2="475.50" stroke="#000" stroke-width="1.0" />
<line x1="101.69" y1="17.40" x2="101.69" y2="19.60" stroke="#000" stroke-width="1.0" />
<line x1="101.69" y1="317.40" x2="101.69" y2="315.60" stroke="#000" stroke-width="1.0" />
<line x1="101.69" y1="317.40" x2="101.69" y2="318.90" stroke="#000" stroke-width="1.0" />
<line x1="101.69" y1="477.50" x2="101.69" y2="476.50" stroke="#000" stroke-width="1.0" />
<line x1="111.64" y1="17.40" x2="111.64" y2="21.40" stroke="#000" stroke-width="1.0" />
<line x1="111.64" y1="317.40" x2="111.64" y2="313.40" stroke="#000" stroke-width="1.0" />
<line x1="111.64" y1="317.40" x2="111.64" y2="320.00" stroke="#000" stroke-width="1.0" />
<line x1="111.64" y1="477.50" x2="111.64" y2="475.50" stroke="#000" stroke-width="1.0" />
<line x1="121.60" y1="17.40" x2="121.60" y2="19.60" stroke="#000" stroke-width="1.0" />
<line x1="121.60" y1="317.40" x2="121.60" y2="315.60" stroke="#000" stroke-width="1.0" />
<line x1="121.60" y1="317.40" x2="121.60" y2="318.90" stroke="#000" stroke-width="1.0" />
<line x1="121.60" y1="477.50" x2="121.60" y2="476.50" stroke="#000" stroke-width="1.0" />
<line x1="131.56" y1="17.40" x2="131.56" y2="21.40" stroke="#000" stroke-width="1.0" />
<line x1="131.56" y1="317.40" x2="131.56" y2="313.40" stroke="#000" stroke-width="1.0" />
<line x1="131.56" y1="317.40" x2="131.56" y2="320.00" stroke="#000" stroke-width="1.0" />
<line x1="131.56" y1="477.50" x2="131.56" y2="475.50" stroke="#000" stroke-width="1.0" />
<line x1="141.51" y1="17.40" x2="141.51" y2="19.60" stroke="#000" stroke-width="1.0" />
<line x1="141.51" y1="317.40" x2="141.51" y2="315.60" stroke="#000" stroke-width="1.0" />
<line x1="141.51" y1="317.40" x2="141.51" y2="318.90" stroke="#000" stroke-width="1.0" />
<line x1="141.51" y1="477.50" x2="141.51" y2="476.50" stroke="#000" stroke-width="1.0" />
<line x1="151.47" y1="17.40" x2="151.47" y2="25.40" stroke="#000" stroke-width="1.0" />
<line x1="151.47" y1="317.40" x2="151.47" y2="309.40" stroke="#000" stroke-width="1.0" />
<line x1="151.47" y1="317.40" x2="151.47" y2="322.90" stroke="#000" stroke-width="1.0" />
<line x1="151.47" y1="477.50" x2="151.47" y2="473.20" stroke="#000" stroke-width="1.0" />
<line x1="161.43" y1="17.40" x2="161.43" y2="19.60" stroke="#000" stroke-width="1.0" />
<line x1="161.43" y1="317.40" x2="161.43" y2="315.60" stroke="#000" stroke-width="1.0" />
<line x1="161.43" y1="317.40" x2="161.43" y2="318.90" stroke="#000" stroke-width="1.0" />
<line x1="161.43" y1="477.50" x2="161.43" y2="476.50" stroke="#000" stroke-width="1.0" />
<line x1="171.38" y1="17.40" x2="171.38" y2="21.40" stroke="#000" stroke-width="1.0" />
<line x1="171.38" y1="317.40" x2="171.38" y2="313.40" stroke="#000" stroke-width="1.0" />
<line x1="171.38" y1="317.40" x2="171.38" y2="320.00" stroke="#000" stroke-width="1.0" />
<line x1="171.38" y1="477.50" x2="171.38" y2="475.50" stroke="#000" stroke-width="1.0" />
<line x1="181.34" y1="17.40" x2="181.34" y2="19.60" stroke="#000" stroke-width="1.0" />
<line x1="181.34" y1="317.40" x2="181.34" y2="315.60" stroke="#000" stroke-width="1.0" />
<line x1="181.34" y1="317.40" x2="181.34" y2="318.90" stroke="#000" stroke-width="1.0" />
<line x1="181.34" y1="477.50" x2="181.34" y2="476.50" stroke="#000" stroke-width="1.0" />
<line x1="191.30" y1="17.40" x2="191.30" y2="21.40" stroke="#000" stroke-width="1.0" />
<line x1="191.30" y1="317.40" x2="191.30" y2="313.40" stroke="#000" stroke-width="1.0" />
<line x1="191.30" y1="317.40" x2="191.30" y2="320.00" stroke="#000" stroke-width="1.0" />
<line x1="191.30" y1="477.50" x2="191.30" y2="475.50" stroke="#000" stroke-width="1.0" />
<line x1="201.25" y1="17.40" x2="201.25" y2="19.60" stroke="#000" stroke-width="1.0" />
<line x1="201.25" y1="317.40" x2="201.25" y2="315.60" stroke="#000" stroke-width="1.0" />
<line x1="201.25" y1="317.40" x2="201.25" y2="318.90" stroke="#000" stroke-width="1.0" />
<line x1="201.25" y1="477.50" x2="201.25" y2="476.50" stroke="#000" stroke-width="1.0" />
<line x1="211.21" y1="17.40" x2="211.21" y2="21.40" stroke="#000" stroke-width="1.0" />
<line x1="211.21" y1="317.40" x2="211.21" y2="313.40" stroke="#000" stroke-width="1.0" />
<line x1="211.21" y1="317.40" x2="211.21" y2="320.00" stroke="#000" stroke-width="1.0" />
<line x1="211.21" y1="477.50" x2="211.21" y2="475.50" stroke="#000" stroke-width="1.0" />
<line x1="221.17" y1="17.40" x2="221.17" y2="19.60" stroke="#000" stroke-width="1.0" />
<line x1="221.17" y1="317.40" x2="221.17" y2="315.60" stroke="#000" stroke-width="1.0" />
<line x1="221.17" y1="317.40" x2="221.17" y2="318.90" stroke="#000" stroke-width="1.0" />
<line x1="221.17" y1="477.50" x2="221.17" y2="476.50" stroke="#000" stroke-width="1.0" />
<line x1="231.13" y1="17.40" x2="231.13" y2="21.40" stroke="#000" stroke-width="1.0" />
<line x1="231.13" y1="317.40" x2="231.13" y2="313.40" stroke="#000" stroke-width="1.0" />
<line x1="231.13" y1="317.40" x2="231.13" y2="320.00" stroke="#000" stroke-width="1.0" />
<line x1="231.13" y1="477.50" x2="231.13" y2="475.50" stroke="#000" stroke-width="1.0" />
<line x1="241.08" y1="17.40" x2="241.08" y2="19.60" stroke="#000" stroke-width="1.0" />
<line x1="241.08" y1="317.40" x2="241.08" y2="315.60" stroke="#000" stroke-width="1.0" />
<line x1="241.08" y1="317.40" x2="241.08" y2="318.90" stroke="#000" stroke-width="1.0" />
<line x1="241.08" y1="477.50" x2="241.08" y2="476.50" stroke="#000" stroke-width="1.0" />
<line x1="251.04" y1="17.40" x2="251.04" y2="25.40" stroke="#000" stroke-width="1.0" />
<line x1="251.04" y1="317.40" x2="251.04" y2="309.40" stroke="#000" stroke-width="1.0" />
<line x1="251.04" y1="317.40" x2="251.04" y2="322.90" stroke="#000" stroke-width="1.0" />
<line x1="251.04" y1="477.50" x2="251.04" y2="473.20" stroke="#000" stroke-width="1.0" />
<line x1="261.00" y1="17.40" x2="261.00" y2="19.60" stroke="#000" stroke-width="1.0" />
<line x1="261.00" y1="317.40" x2="261.00" y2="315.60" stroke="#000" stroke-width="1.0" />
<line x1="261.00" y1="317.40" x2="261.00" y2="318.90" stroke="#000" stroke-width="1.0" />
<line x1="261.00" y1="477.50" x2="261.00" y2="476.50" stroke="#000" stroke-width="1.0" />
<line x1="270.95" y1="17.40" x2="270.95" y2="21.40" stroke="#000" stroke-width="1.0" />
<line x1="270.95" y1="317.40" x2="270.95" y2="313.40" stroke="#000" stroke-width="1.0" />
<line x1="270.95" y1="317.40" x2="270.95" y2="320.00" stroke="#000" stroke-width="1.0" />
<line x1="270.95" y1="477.50" x2="270.95" y2="475.50" stroke="#000" stroke-width="1.0" />
<line x1="280.91" y1="17.40" x2="280.91" y2="19.60" stroke="#000" stroke-width="1.0" />
<line x1="280.91" y1="317.40" x2="280.91" y2="315.60" stroke="#000" stroke-width="1.0" />
<line x1="280.91" y1="317.40" x2="280.91" y2="318.90" stroke="#000" stroke-width="1.0" />
<line x1="280.91" y1="477.50" x2="280.91" y2="476.50" stroke="#000" stroke-width="1.0" />
<line x1="290.87" y1="17.40" x2="290.87" y2="21.40" stroke="#000" stroke-width="1.0" />
<line x1="290.87" y1="317.40" x2="290.87" y2="313.40" stroke="#000" stroke-width="1.0" />
<line x1="290.87" y1="317.40" x2="290.87" y2="320.00" stroke="#000" stroke-width="1.0" />
<line x1="290.87" y1="477.50" x2="290.87" y2="475.50" stroke="#000" stroke-width="1.0" />
<line x1="300.82" y1="17.40" x2="300.82" y2="19.60" stroke="#000" stroke-width="1.0" />
<line x1="300.82" y1="317.40" x2="300.82" y2="315.60" stroke="#000" stroke-width="1.0" />
<line x1="300.82" y1="317.40" x2="300.82" y2="318.90" stroke="#000" stroke-width="1.0" />
<line x1="300.82" y1="477.50" x2="300.82" y2="476.50" stroke="#000" stroke-width="1.0" />
<line x1="310.78" y1="17.40" x2="310.78" y2="21.40" stroke="#000" stroke-width="1.0" />
<line x1="310.78" y1="317.40" x2="310.78" y2="313.40" stroke="#000" stroke-width="1.0" />
<line x1="310.78" y1="317.40" x2="310.78" y2="320.00" stroke="#000" stroke-width="1.0" />
<line x1="310.78" y1="477.50" x2="310.78" y2="475.50" stroke="#000" stroke-width="1.0" />
<line x1="320.74" y1="17.40" x2="320.74" y2="19.60" stroke="#000" stroke-width="1.0" />
<line x1="320.74" y1="317.40" x2="320.74" y2="315.60" stroke="#000" stroke-width="1.0" />
<line x1="320.74" y1="317.40" x2="320.74" y2="318.90" stroke="#000" stroke-width="1.0" />
<line x1="320.74" y1="477.50" x2="320.74" y2="476.50" stroke="#000" stroke-width="1.0" />
<line x1="330.70" y1="17.40" x2="330.70" y2="21.40" stroke="#000" stroke-width="1.0" />
<line x1="330.70" y1="317.40" x2="330.70" y2="313.40" stroke="#000" stroke-width="1.0" />
<line x1="330.70" y1="317.40" x2="330.70" y2="320.00" stroke="#000" stroke-width="1.0" />
<line x1="330.70" y1="477.50" x2="330.70" y2="475.50" stroke="#000" stroke-width="1.0" />
<line x1="340.65" y1="17.40" x2="340.65" y2="19.60" stroke="#000" stroke-width="1.0" />
<line x1="340.65" y1="317.40" x2="340.65" y2="315.60" stroke="#000" stroke-width="1.0" />
<line x1="340.65" y1="317.40" x2="340.65" y2="318.90" stroke="#000" stroke-width="1.0" />
<line x1="340.65" y1="477.50" x2="340.65" y2="476.50" stroke="#000" stroke-width="1.0" />
<line x1="350.61" y1="17.40" x2="350.61" y2="25.40" stroke="#000" stroke-width="1.0" />
<line x1="350.61" y1="317.40" x2="350.61" y2="309.40" stroke="#000" stroke-width="1.0" />
<line x1="350.61" y1="317.40" x2="350.61" y2="322.90" stroke="#000" stroke-width="1.0" />
<line x1="350.61" y1="477.50" x2="350.61" y2="473.20" stroke="#000" stroke-width="1.0" />
<line x1="360.57" y1="17.40" x2="360.57" y2="19.60" stroke="#000" stroke-width="1.0" />
<line x1="360.57" y1="317.40" x2="360.57" y2="315.60" stroke="#000" stroke-width="1.0" />
<line x1="360.57" y1="317.40" x2="360.57" y2="318.90" stroke="#000" stroke-width="1.0" />
<line x1="360.57" y1="477.50" x2="360.57" y2="476.50" stroke="#000" stroke-width="1.0" />
<line x1="370.52" y1="17.40" x2="370.52" y2="21.40" stroke="#000" stroke-width="1.0" />
<line x1="370.52" y1="317.40" x2="370.52" y2="313.40" stroke="#000" stroke-width="1.0" />
<line x1="370.52" y1="317.40" x2="370.52" y2="320.00" stroke="#000" stroke-width="1.0" />
<line x1="370.52" y1="477.50" x2="370.52" y2="475.50" stroke="#000" stroke-width="1.0" />
<line x1="45.50" y1="309.43" x2="51.30" y2="309.43" stroke="#000" stroke-width="1.0" />
<line x1="371.50" y1="309.43" x2="365.70" y2="309.43" stroke="#000" stroke-width="1.0" />
<line x1="45.50" y1="295.89" x2="51.30" y2="295.89" stroke="#000" stroke-width="1.0" />
<line x1="371.50" y1="295.89" x2="365.70" y2="295.89" stroke="#000" stroke-width="1.0" />
<line x1="45.50" y1="286.29" x2="51.30" y2="286.29" stroke="#000" stroke-width="1.0" />
<line x1="371.50" y1="286.29" x2="365.70" y2="286.29" stroke="#000" stroke-width="1.0" />
<line x1="45.50" y1="278.84" x2="51.30" y2="278.84" stroke="#000" stroke-width="1.0" />
<line x1="371.50" y1="278.84" x2="365.70" y2="278.84" stroke="#000" stroke-width="1.0" />
<line x1="45.50" y1="272.75" x2="51.30" y2="272.75" stroke="#000" stroke-width="1.0" />
<line x1="371.50" y1="272.75" x2="365.70" y2="272.75" stroke="#000" stroke-width="1.0" />
<line x1="45.50" y1="267.61" x2="51.30" y2="267.61" stroke="#000" stroke-width="1.0" />
<line x1="371.50" y1="267.61" x2="365.70" y2="267.61" stroke="#000" stroke-width="1.0" />
<line x1="45.50" y1="263.15" x2="51.30" y2="263.15" stroke="#000" stroke-width="1.0" />
<line x1="371.50" y1="263.15" x2="365.70" y2="263.15" stroke="#000" stroke-width="1.0" />
<line x1="45.50" y1="259.22" x2="51.30" y2="259.22" stroke="#000" stroke-width="1.0" />
<line x1="371.50" y1="259.22" x2="365.70" y2="259.22" stroke="#000" stroke-width="1.0" />
<line x1="45.50" y1="255.70" x2="56.50" y2="255.70" stroke="#000" stroke-width="1.0" />
<line x1="371.50" y1="255.70" x2="360.50" y2="255.70" stroke="#000" stroke-width="1.0" />
<line x1="45.50" y1="232.56" x2="51.30" y2="232.56" stroke="#000" stroke-width="1.0" />
<line x1="371.50" y1="232.56" x2="365.70" y2="232.56" stroke="#000" stroke-width="1.0" />
<line x1="45.50" y1="219.02" x2="51.30" y2="219.02" stroke="#000" stroke-width="1.0" />
<line x1="371.50" y1="219.02" x2="365.70" y2="219.02" stroke="#000" stroke-width="1.0" />
<line x1="45.50" y1="209.42" x2="51.30" y2="209.42" stroke="#000" stroke-width="1.0" />
<line x1="371.50" y1="209.42" x2="365.70" y2="209.42" stroke="#000" stroke-width="1.0" />
<line x1="45.50" y1="201.97" x2="51.30" y2="201.97" stroke="#000" stroke-width="1.0" />
<line x1="371.50" y1="201.97" x2="365.70" y2="201.97" stroke="#000" stroke-width="1.0" />
<line x1="45.50" y1="195.88" x2="51.30" y2="195.88" stroke="#000" stroke-width="1.0" />
<line x1="371.50" y1="195.88" x2="365.70" y2="195.88" stroke="#000" stroke-width="1.0" />
<line x1="45.50" y1="190.74" x2="51.30" y2="190.74" stroke="#000" stroke-width="1.0" />
<line x1="371.50" y1="190.74" x2="365.70" y2="190.74" stroke="#000" stroke-width="1.0" />
<line x1="45.50" y1="186.28" x2="51.30" y2="186.28" stroke="#000" stroke-width="1.0" />
<line x1="371.50" y1="186.28" x2="365.70" y2="186.28" stroke="#000" stroke-width="1.0" />
<line x1="45.50" y1="182.35" x2="51.30" y2="182.35" stroke="#000" stroke-width="1.0" />
<line x1="371.50" y1="182.35" x2="365.70" y2="182.35" stroke="#000" stroke-width="1.0" />
<line x1="45.50" y1="178.83" x2="56.50" y2="178.83" stroke="#000" stroke-width="1.0" />
<line x1="371.50" y1="178.83" x2="360.50" y2="178.83" stroke="#000" stroke-width="1.0" />
<line x1="45.50" y1="155.69" x2="51.30" y2="155.69" stroke="#000" stroke-width="1.0" />
<line x1="371.50" y1="155.69" x2="365.70" y2="155.69" stroke="#000" stroke-width="1.0" />
<line x1="45.50" y1="142.15" x2="51.30" y2="142.15" stroke="#000" stroke-width="1.0" />
<line x1="371.50" y1="142.15" x2="365.70" y2="142.15" stroke="#000" stroke-width="1.0" />
<line x1="45.50" y1="132.55" x2="51.30" y2="132.55" stroke="#000" stroke-width="1.0" />
<line x1="371.50" y1="132.55" x2="365.70" y2="132.55" stroke="#000" stroke-width="1.0" />
<line x1="45.50" y1="125.10" x2="51.30" y2="125.10" stroke="#000" stroke-width="1.0" />
<line x1="371.50" y1="125.10" x2="365.70" y2="125.10" stroke="#000" stroke-width="1.0" />
<line x1="45.50" y1="119.01" x2="51.30" y2="119.01" stroke="#000" stroke-width="1.0" />
<line x1="371.50" y1="119.01" x2="365.70" y2="119.01" stroke="#000" stroke-width="1.0" />
<line x1="45.50" y1="113.87" x2="51.30" y2="113.87" stroke="#000" stroke-width="1.0" />
<line x1="371.50" y1="113.87" x2="365.70" y2="113.87" stroke="#000" stroke-width="1.0" />
<line x1="45.50" y1="109.41" x2="51.30" y2="109.41" stroke="#000" stroke-width="1.0" />
<line x1="371.50" y1="109.41" x2="365.70" y2="109.41" stroke="#000" stroke-width="1.0" />
<line x1="45.50" y1="105.48" x2="51.30" y2="105.48" stroke="#000" stroke-width="1.0" />
<line x1="371.50" y1="105.48" x2="365.70" y2="105.48" stroke="#000" stroke-width="1.0" />
<line x1="45.50" y1="101.96" x2="56.50" y2="101.96" stroke="#000" stroke-width="1.0" />
<line x1="371.50" y1="101.96" x2="360.50" y2="101.96" stroke="#000" stroke-width="1.0" />
<line x1="45.50" y1="78.82" x2="51.30" y2="78.82" stroke="#000" stroke-width="1.0" />
<line x1="371.50" y1="78.82" x2="365.70" y2="78.82" stroke="#000" stroke-width="1.0" />
<line x1="45.50" y1="65.28" x2="51.30" y2="65.28" stroke="#000" stroke-width="1.0" />
<line x1="371.50" y1="65.28" x2="365.70" y2="65.28" stroke="#000" stroke-width="1.0" />
<line x1="45.50" y1="55.68" x2="51.30" y2="55.68" stroke="#000" stroke-width="1.0" />
<line x1="371.50" y1="55.68" x2="365.70" y2="55.68" stroke="#000" stroke-width="1.0" />
<line x1="45.50" y1="48.23" x2="51.30" y2="48.23" stroke="#000" stroke-width="1.0" />
<line x1="371.50" y1="48.23" x2="365.70" y2="48.23" stroke="#000" stroke-width="1.0" />
<line x1="45.50" y1="42.14" x2="51.30" y2="42.14" stroke="#000" stroke-width="1.0" />
<line x1="371.50" y1="42.14" x2="365.70" y2="42.14" stroke="#000" stroke-width="1.0" />
<line x1="45.50" y1="37.00" x2="51.30" y2="37.00" stroke="#000" stroke-width="1.0" />
<line x1="371.50" y1="37.00" x2="365.70" y2="37.00" stroke="#000" stroke-width="1.0" />
<line x1="45.50" y1="32.54" x2="51.30" y2="32.54" stroke="#000" stroke-width="1.0" />
<line x1="371.50" y1="32.54" x2="365.70" y2="32.54" stroke="#000" stroke-width="1.0" />
<line x1="45.50" y1="28.61" x2="51.30" y2="28.61" stroke="#000" stroke-width="1.0" />
<line x1="371.50" y1="28.61" x2="365.70" y2="28.61" stroke="#000" stroke-width="1.0" />
<line x1="45.50" y1="25.09" x2="56.50" y2="25.09" stroke="#000" stroke-width="1.0" />
<line x1="371.50" y1="25.09" x2="360.50" y2="25.09" stroke="#000" stroke-width="1.0" />
<line x1="45.50" y1="458.50" x2="52.70" y2="458.50" stroke="#000" stroke-width="1.0" />
<line x1="371.50" y1="458.50" x2="364.30" y2="458.50" stroke="#000" stroke-width="1.0" />
<line x1="45.50" y1="442.48" x2="50.80" y2="442.48" stroke="#000" stroke-width="1.0" />
<line x1="371.50" y1="442.48" x2="366.20" y2="442.48" stroke="#000" stroke-width="1.0" />
<line x1="45.50" y1="428.94" x2="50.80" y2="428.94" stroke="#000" stroke-width="1.0" />
<line x1="371.50" y1="428.94" x2="366.20" y2="428.94" stroke="#000" stroke-width="1.0" />
<line x1="45.50" y1="417.20" x2="50.80" y2="417.20" stroke="#000" stroke-width="1.0" />
<line x1="371.50" y1="417.20" x2="366.20" y2="417.20" stroke="#000" stroke-width="1.0" />
<line x1="45.50" y1="406.86" x2="50.80" y2="406.86" stroke="#000" stroke-width="1.0" />
<line x1="371.50" y1="406.86" x2="366.20" y2="406.86" stroke="#000" stroke-width="1.0" />
<line x1="45.50" y1="397.60" x2="52.70" y2="397.60" stroke="#000" stroke-width="1.0" />
<line x1="371.50" y1="397.60" x2="364.30" y2="397.60" stroke="#000" stroke-width="1.0" />
<line x1="45.50" y1="389.23" x2="50.80" y2="389.23" stroke="#000" stroke-width="1.0" />
<line x1="371.50" y1="389.23" x2="366.20" y2="389.23" stroke="#000" stroke-width="1.0" />
<line x1="45.50" y1="381.58" x2="50.80" y2="381.58" stroke="#000" stroke-width="1.0" />
<line x1="371.50" y1="381.58" x2="366.20" y2="381.58" stroke="#000" stroke-width="1.0" />
<line x1="45.50" y1="374.55" x2="50.80" y2="374.55" stroke="#000" stroke-width="1.0" />
<line x1="371.50" y1="374.55" x2="366.20" y2="374.55" stroke="#000" stroke-width="1.0" />
<line x1="45.50" y1="368.04" x2="50.80" y2="368.04" stroke="#000" stroke-width="1.0" />
<line x1="371.50" y1="368.04" x2="366.20" y2="368.04" stroke="#000" stroke-width="1.0" />
<line x1="45.50" y1="361.98" x2="52.70" y2="361.98" stroke="#000" stroke-width="1.0" />
<line x1="371.50" y1="361.98" x2="364.30" y2="361.98" stroke="#000" stroke-width="1.0" />
<line x1="45.50" y1="356.31" x2="50.80" y2="356.31" stroke="#000" stroke-width="1.0" />
<line x1="371.50" y1="356.31" x2="366.20" y2="356.31" stroke="#000" stroke-width="1.0" />
<line x1="45.50" y1="350.98" x2="50.80" y2="350.98" stroke="#000" stroke-width="1.0" />
<line x1="371.50" y1="350.98" x2="366.20" y2="350.98" stroke="#000" stroke-width="1.0" />
<line x1="45.50" y1="345.96" x2="50.80" y2="345.96" stroke="#000" stroke-width="1.0" />
<line x1="371.50" y1="345.96" x2="366.20" y2="345.96" stroke="#000" stroke-width="1.0" />
<line x1="45.50" y1="341.21" x2="50.80" y2="341.21" stroke="#000" stroke-width="1.0" />
<line x1="371.50" y1="341.21" x2="366.20" y2="341.21" stroke="#000" stroke-width="1.0" />
<line x1="45.50" y1="336.70" x2="52.70" y2="336.70" stroke="#000" stroke-width="1.0" />
<line x1="371.50" y1="336.70" x2="364.30" y2="336.70" stroke="#000" stroke-width="1.0" />
<line x1="45.50" y1="332.42" x2="50.80" y2="332.42" stroke="#000" stroke-width="1.0" />
<line x1="371.50" y1="332.42" x2="366.20" y2="332.42" stroke="#000" stroke-width="1.0" />
<line x1="45.50" y1="328.33" x2="50.80" y2="328.33" stroke="#000" stroke-width="1.0" />
<line x1="371.50" y1="328.33" x2="366.20" y2="328.33" stroke="#000" stroke-width="1.0" />
<line x1="45.50" y1="324.42" x2="50.80" y2="324.42" stroke="#000" stroke-width="1.0" />
<line x1="371.50" y1="324.42" x2="366.20" y2="324.42" stroke="#000" stroke-width="1.0" />
<line x1="45.50" y1="320.68" x2="50.80" y2="320.68" stroke="#000" stroke-width="1.0" />
<line x1="371.50" y1="320.68" x2="366.20" y2="320.68" stroke="#000" stroke-width="1.0" />
<text x="51.00" y="13.90" font-size="12.2" text-anchor="start" fill="#000" >7000 GeV pp</text>
<text x="367.80" y="13.90" font-size="12.2" text-anchor="end" fill="#000" >Top (parton level)</text>
<path transform="translate(23.01,30.70) scale(0.00552,-0.00552)" d="M515,0 L515,1237 L197,1010 L197,1180 L530,1409 L696,1409 L696,0 Z" fill="#000"/>
<text x="29.30" y="30.70" font-size="11.3" fill="#000">0</text>
<text x="34.68" y="25.90" font-size="8.4" fill="#000">3</text>
<path transform="translate(23.01,107.60) scale(0.00552,-0.00552)" d="M515,0 L515,1237 L197,1010 L197,1180 L530,1409 L696,1409 L696,0 Z" fill="#000"/>
<text x="29.30" y="107.60" font-size="11.3" fill="#000">0</text>
<text x="34.58" y="102.80" font-size="8.4" fill="#000">2</text>
<path transform="translate(26.99,182.90) scale(0.00562,-0.00562)" d="M515,0 L515,1237 L197,1010 L197,1180 L530,1409 L696,1409 L696,0 Z" fill="#000"/>
<text x="33.39" y="182.90" font-size="11.5" fill="#000">0</text>
<path transform="translate(34.79,259.70) scale(0.00562,-0.00562)" d="M515,0 L515,1237 L197,1010 L197,1180 L530,1409 L696,1409 L696,0 Z" fill="#000"/>
<text x="31.50" y="340.70" font-size="12" fill="#000">2</text>
<path transform="translate(32.75,402.00) scale(0.00586,-0.00586)" d="M515,0 L515,1237 L197,1010 L197,1180 L530,1409 L696,1409 L696,0 Z" fill="#000"/>
<text x="21.74" y="462.00" font-size="11.8" fill="#000">0</text>
<text x="28.30" y="462.00" font-size="11.8" fill="#000">.</text>
<text x="31.58" y="462.00" font-size="11.8" fill="#000">5</text>
<text x="373.60" y="340.70" font-size="12" fill="#000">2</text>
<path transform="translate(374.15,402.40) scale(0.00586,-0.00586)" d="M515,0 L515,1237 L197,1010 L197,1180 L530,1409 L696,1409 L696,0 Z" fill="#000"/>
<text x="373.44" y="462.00" font-size="11.8" fill="#000">0</text>
<text x="380.00" y="462.00" font-size="11.8" fill="#000">.</text>
<text x="383.28" y="462.00" font-size="11.8" fill="#000">5</text>
<text x="47.55" y="489.00" font-size="11.6" fill="#000">0</text>
<path transform="translate(149.78,488.90) scale(0.00566,-0.00566)" d="M515,0 L515,1237 L197,1010 L197,1180 L530,1409 L696,1409 L696,0 Z" fill="#000"/>
<text x="247.62" y="488.80" font-size="11.6" fill="#000">2</text>
<text x="347.66" y="489.00" font-size="11.6" fill="#000">3</text>
<text x="147.0" y="43.0" font-size="10.6" fill="#000">Δ</text>
<text x="153.3" y="42.5" font-size="12.2" fill="#000" font-family="Liberation Serif">ϕ</text>
<text x="162.90" y="43.90" font-size="10" text-anchor="start" fill="#000" >(ttbar) (Mtt &lt; 450 dy &gt; 0)</text>
<line x1="64.20" y1="62.00" x2="89.20" y2="62.00" stroke="#0000ff" stroke-width="1.1" />
<polygon points="74.10,64.95 79.30,64.95 76.70,59.45" fill="#0000ff"/>
<line x1="64.20" y1="74.80" x2="89.20" y2="74.80" stroke="#16a0c6" stroke-width="1.2" stroke-dasharray="3.5 2 1 2"/>
<polygon points="73.70,72.10 79.50,72.10 76.60,77.90" fill="#16a0c6"/>
<text x="93.60" y="64.80" font-size="9.55" text-anchor="start" fill="#000" >Pythia 8.315 default</text>
<text x="93.60" y="77.30" font-size="9.55" text-anchor="start" fill="#000" >Pythia 8.315 vincia-default</text>
<text x="207.50" y="302.20" font-size="7.9" text-anchor="middle" fill="#a8a8a8" >(MC_FBA_TTBAR)</text>
<text transform="translate(380.4,128) rotate(-90)" font-size="9.4" fill="#666">Rivet 4.1.0, ≥ 100k events</text>
<text transform="translate(381.2,314) rotate(-90)" font-size="9.4" fill="#666">mcplots.cern.ch [arXiv:2401.10621]</text>
<text transform="translate(17.2,452.5) rotate(-90)" font-size="9" fill="#000">Ratio to Pythia 8.315 default</text>
</svg></body></html>
